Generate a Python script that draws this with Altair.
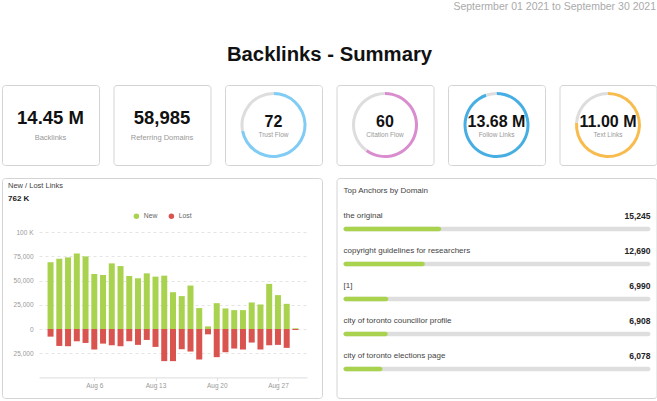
import altair as alt
import pandas as pd

# ---------------- data ----------------
date_range_text = "Septermber 01 2021 to September 30 2021"
page_title = "Backlinks - Summary"

stat_values = ["14.45 M", "58,985"]
stat_labels = ["Backlinks", "Referring Domains"]

ring_values = ["72", "60", "13.68 M", "11.00 M"]
ring_labels = ["Trust Flow", "Citation Flow", "Follow Links", "Text Links"]
ring_shares = [72, 60, 13.68, 11.00]
ring_totals = [100, 100, 14.45, 14.45]
ring_colors = ["#80ccf5", "#d98dcf", "#47aee3", "#f8bb4e"]

links_title = "New / Lost Links"
links_total_text = "762 K"
link_days = list(range(1, 30))  # Aug 1 .. Aug 29
new_links = [69000, 72600, 74000, 78000, 75000, 56800, 55800, 67800, 65000, 54800,
             52400, 57500, 54100, 55100, 38000, 34000, 44900, 21600, 2700, 26700,
             21200, 19500, 19500, 27400, 25300, 46600, 35000, 26000, 700]
lost_links = [7900, 17500, 17800, 12700, 14400, 21200, 15100, 16800, 17800, 12700,
              16400, 11300, 18500, 33200, 33200, 20900, 23300, 31500, 5500, 29100,
              24000, 20200, 21200, 14000, 21200, 16800, 16400, 19500, 1000]
y_tick_values = [-25000, 0, 25000, 50000, 75000, 100000]
x_tick_days = [6, 13, 20, 27]

anchors_title = "Top Anchors by Domain"
anchor_names = ["the original", "copyright guidelines for researchers", "[1]",
                "city of toronto councillor profile", "city of toronto elections page"]
anchor_counts = [15245, 12690, 6990, 6908, 6078]

GREEN = "#a9d24f"
RED = "#d9534f"
TRACK = "#dedede"
card_view = alt.ViewBackground(stroke="#d4d4d4", strokeWidth=1, cornerRadius=3, fill="white")

PANEL_H = 220
HEADER_H = 71
ROW_GAP = 11

# ---------------- header ----------------
header = alt.layer(
    alt.Chart(pd.DataFrame({"t": [date_range_text]})).mark_text(
        align="right", baseline="middle", fontSize=10.5, color="#aaaaaa"
    ).encode(text="t:N", x=alt.value(654), y=alt.value(6)),
    alt.Chart(pd.DataFrame({"t": [page_title]})).mark_text(
        align="center", baseline="middle", fontSize=20.3, fontWeight="bold", color="#111111"
    ).encode(text="t:N", x=alt.value(327.5), y=alt.value(54)),
).properties(width=654, height=HEADER_H, view=alt.ViewBackground(stroke="transparent"))


# ---------------- cards ----------------
def stat_card(value, label):
    base = alt.Chart(pd.DataFrame({"v": [value], "l": [label]}))
    return alt.layer(
        base.mark_text(fontSize=18.5, fontWeight="bold", color="#111111", baseline="middle")
        .encode(text="v:N", x=alt.value(48.5), y=alt.value(33)),
        base.mark_text(fontSize=7.5, color="#999999", baseline="middle")
        .encode(text="l:N", x=alt.value(48.5), y=alt.value(53)),
    ).properties(width=97, height=80, view=card_view)


def ring_card(value, label, share, total, color):
    d = pd.DataFrame({"amount": [share, total - share], "c": [color, "#dddddd"], "i": [0, 1]})
    arc = alt.Chart(d).mark_arc(radius=33, radius2=30).encode(
        theta=alt.Theta("amount:Q", stack=True),
        color=alt.Color("c:N", scale=None),
        order=alt.Order("i:Q"),
    )
    base = alt.Chart(pd.DataFrame({"v": [value], "l": [label]}))
    return alt.layer(
        arc,
        base.mark_text(fontSize=16, fontWeight="bold", color="#111111", baseline="middle")
        .encode(text="v:N", x=alt.value(48.5), y=alt.value(37)),
        base.mark_text(fontSize=6.5, color="#999999", baseline="middle")
        .encode(text="l:N", x=alt.value(48.5), y=alt.value(50)),
    ).properties(width=97, height=80, view=card_view)


cards = [stat_card(v, l) for v, l in zip(stat_values, stat_labels)]
cards += [ring_card(v, l, s, t, c) for v, l, s, t, c in
          zip(ring_values, ring_labels, ring_shares, ring_totals, ring_colors)]
cards_row = alt.hconcat(*cards, spacing=14.5, bounds="flush")

# ---------------- new / lost links ----------------
rows = []
for d, n, l in zip(link_days, new_links, lost_links):
    ds = f"2021-08-{d:02d}T00:00:00"
    rows.append({"date": ds, "type": "New", "value": n})
    rows.append({"date": ds, "type": "Lost", "value": -l})
links_df = pd.DataFrame(rows)

x_scale = alt.Scale(
    domain=[alt.DateTime(year=2021, month=7, date=31, hours=6),
            alt.DateTime(year=2021, month=8, date=29, hours=18)],
    range=[37, 305],
)
y_scale = alt.Scale(domain=[-50000, 100000], range=[199.4, 54.2], nice=False, zero=False)

bars = alt.Chart(links_df).mark_bar(size=6).encode(
    x=alt.X("date:T", scale=x_scale, axis=alt.Axis(
        orient="bottom", offset=-(PANEL_H - 199.4), grid=False,
        values=[alt.DateTime(year=2021, month=8, date=d) for d in x_tick_days],
        format="%b %-d", title=None, domainColor="#dddddd", tickColor="#dddddd",
        tickSize=3, labelPadding=2, labelFontSize=6.5, labelColor="#999999",
    )),
    y=alt.Y("value:Q", stack=None, scale=y_scale, axis=alt.Axis(
        orient="left", offset=-37, domain=False, ticks=False, values=y_tick_values,
        labelExpr="datum.value == 100000 ? '100 K' : format(abs(datum.value), ',')",
        labelPadding=6, labelFontSize=6.5, labelColor="#999999", title=None,
        gridDash=[3, 3], gridColor="#e4e4e4", gridWidth=1,
    )),
    color=alt.Color("type:N", scale=alt.Scale(domain=["New", "Lost"], range=[GREEN, RED]),
                    legend=alt.Legend(orient="none", legendX=131, legendY=34.5,
                                      direction="horizontal", title=None, symbolType="circle",
                                      symbolSize=30, symbolStrokeWidth=0, labelFontSize=6.8,
                                      labelColor="#666666", columnPadding=10, labelOffset=4)),
)

links_panel = alt.layer(
    bars,
    alt.Chart(pd.DataFrame({"t": [links_title]})).mark_text(
        align="left", baseline="middle", fontSize=7.5, color="#444444"
    ).encode(text="t:N", x=alt.value(6), y=alt.value(8)),
    alt.Chart(pd.DataFrame({"t": [links_total_text]})).mark_text(
        align="left", baseline="middle", fontSize=8, fontWeight="bold", color="#222222"
    ).encode(text="t:N", x=alt.value(6), y=alt.value(21)),
).properties(width=320, height=PANEL_H, view=card_view)

# ---------------- top anchors ----------------
anchor_total = sum(anchor_counts)
anchors_df = pd.DataFrame({
    "anchor": anchor_names,
    "count": anchor_counts,
    "zero": [0] * len(anchor_names),
    "total": [anchor_total] * len(anchor_names),
})
ax_scale = alt.Scale(domain=[0, anchor_total], range=[7, 314], nice=False, zero=False)
ay_scale = alt.Scale(type="point", range=[51, 191], padding=0)
ay = alt.Y("anchor:N", sort=anchor_names, scale=ay_scale, axis=None)
abase = alt.Chart(anchors_df)

track = abase.mark_bar(height=4.5, cornerRadius=2.25, color=TRACK).encode(
    x=alt.X("zero:Q", scale=ax_scale, axis=None), x2="total:Q", y=ay)
fill = abase.mark_bar(height=4.5, cornerRadius=2.25, color=GREEN).encode(
    x=alt.X("zero:Q", scale=ax_scale, axis=None), x2="count:Q", y=ay)
names = abase.mark_text(align="left", baseline="middle", dy=-13, fontSize=8, color="#444444").encode(
    x=alt.X("zero:Q", scale=ax_scale, axis=None), y=ay, text="anchor:N")
counts = abase.mark_text(align="right", baseline="middle", dy=-13, fontSize=8.5,
                         fontWeight="bold", color="#222222").encode(
    x=alt.X("total:Q", scale=ax_scale, axis=None), y=ay, text=alt.Text("count:Q", format=","))

anchors_panel = alt.layer(
    track, fill, names, counts,
    alt.Chart(pd.DataFrame({"t": [anchors_title]})).mark_text(
        align="left", baseline="middle", fontSize=8, color="#444444"
    ).encode(text="t:N", x=alt.value(7), y=alt.value(13)),
).properties(width=320, height=PANEL_H, view=card_view)

bottom_row = alt.hconcat(links_panel, anchors_panel, spacing=14.5, bounds="flush").resolve_scale(
    x="independent", y="independent", color="independent")

chart = alt.vconcat(header, cards_row, bottom_row, spacing=ROW_GAP).properties(
    padding={"left": 1, "top": 0, "right": 0, "bottom": 1},
).configure(font="Liberation Sans").configure_view(stroke="transparent")

chart.save("out.html", embed_options={"renderer": "svg", "actions": False})
